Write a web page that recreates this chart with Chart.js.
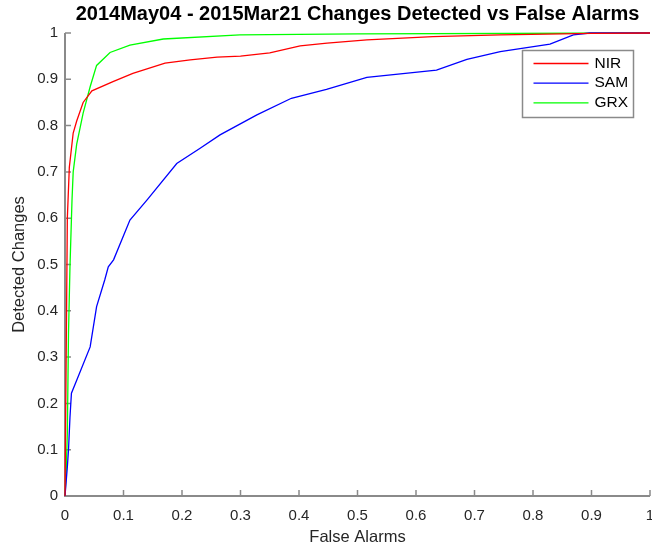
<!DOCTYPE html>
<html><head><meta charset="utf-8">
<script src="https://cdn.jsdelivr.net/npm/chart.js@4.4.1/dist/chart.umd.min.js"></script>
<style>html,body{margin:0;padding:0;background:#fff}#wrap{width:652px;height:550px}</style>
</head><body><div id="wrap"><canvas id="c" width="652" height="550"></canvas></div>
<script>
const titleText = '2014May04 - 2015Mar21 Changes Detected vs False Alarms';
const xAxisLabel = 'False Alarms';
const yAxisLabel = 'Detected Changes';
const seriesNames = ['NIR', 'SAM', 'GRX'];
const seriesColors = ['#ff0000', '#0000ff', '#00ff00'];

const nirX = [0, 0.002, 0.004, 0.0074, 0.014, 0.02, 0.031, 0.046, 0.082, 0.116, 0.171, 0.214, 0.26, 0.30, 0.35, 0.402, 0.448, 0.516, 0.629, 0.744, 0.85, 0.9, 1];
const nirY = [0, 0.3, 0.6, 0.71, 0.784, 0.81, 0.85, 0.875, 0.895, 0.913, 0.935, 0.942, 0.948, 0.95, 0.957, 0.972, 0.978, 0.985, 0.992, 0.996, 0.998, 0.999, 1];

const samX = [0, 0.004, 0.006, 0.0085, 0.011, 0.02, 0.043, 0.054, 0.068, 0.074, 0.083, 0.111, 0.14, 0.191, 0.231, 0.265, 0.328, 0.387, 0.447, 0.516, 0.635, 0.687, 0.744, 0.829, 0.869, 0.897, 1];
const samY = [0, 0.063, 0.1, 0.17, 0.222, 0.25, 0.322, 0.409, 0.467, 0.495, 0.51, 0.596, 0.639, 0.718, 0.751, 0.78, 0.823, 0.859, 0.878, 0.904, 0.92, 0.943, 0.96, 0.976, 0.996, 1.0, 1];

const grxX = [0, 0.002, 0.004, 0.006, 0.0085, 0.012, 0.014, 0.02, 0.031, 0.043, 0.054, 0.077, 0.111, 0.168, 0.299, 0.5, 1];
const grxY = [0, 0.05, 0.136, 0.352, 0.495, 0.64, 0.70, 0.76, 0.827, 0.884, 0.93, 0.958, 0.974, 0.987, 0.996, 0.998, 1];

const xTicks = [0, 0.1, 0.2, 0.3, 0.4, 0.5, 0.6, 0.7, 0.8, 0.9, 1];
const yTicks = [0, 0.1, 0.2, 0.3, 0.4, 0.5, 0.6, 0.7, 0.8, 0.9, 1];

const FONT = "'Liberation Sans', Arial, Helvetica, sans-serif";
const AXIS_COLOR = '#8a8a8a';
const TEXT_COLOR = '#262626';

function pts(xs, ys) { return xs.map((x, i) => ({ x: x, y: ys[i] })); }
const seriesData = [pts(nirX, nirY), pts(samX, samY), pts(grxX, grxY)];

const fmt = v => String(+(+v).toFixed(1));

const matlabPlugin = {
  id: 'matlab',
  beforeDatasetsDraw(chart) {
    const ctx = chart.ctx, a = chart.chartArea;
    const xs = chart.scales.x, ys = chart.scales.y;
    ctx.save();
    ctx.strokeStyle = AXIS_COLOR;
    ctx.lineWidth = 2;
    ctx.beginPath();
    ctx.moveTo(a.left, a.top); ctx.lineTo(a.left, a.bottom); ctx.lineTo(a.right, a.bottom);
    ctx.stroke();
    ctx.lineWidth = 1.5;
    ctx.beginPath();
    xTicks.forEach(v => { const p = xs.getPixelForValue(v); ctx.moveTo(p, a.bottom); ctx.lineTo(p, a.bottom - 6); });
    yTicks.forEach(v => { const p = ys.getPixelForValue(v); ctx.moveTo(a.left, p); ctx.lineTo(a.left + 6, p); });
    ctx.stroke();
    ctx.restore();
  },
  afterDraw(chart) {
    const ctx = chart.ctx, a = chart.chartArea;
    ctx.save();
    // title
    ctx.fillStyle = '#000';
    ctx.font = 'bold 20px ' + FONT;
    ctx.textAlign = 'center';
    ctx.textBaseline = 'middle';
    ctx.fillText(titleText, (a.left + a.right) / 2, 14);
    // legend
    const bx = a.right - 127.5, by = a.top + 17.5, bw = 111, bh = 67;
    ctx.fillStyle = '#fff';
    ctx.fillRect(bx, by, bw, bh);
    ctx.strokeStyle = AXIS_COLOR;
    ctx.lineWidth = 1.5;
    ctx.strokeRect(bx, by, bw, bh);
    ctx.font = '15.5px ' + FONT;
    ctx.textAlign = 'left';
    chart.data.datasets.forEach((ds, i) => {
      const y = by + 13 + i * 19.7;
      ctx.strokeStyle = ds.borderColor;
      ctx.lineWidth = 1.3;
      ctx.beginPath(); ctx.moveTo(bx + 11, y); ctx.lineTo(bx + 66, y); ctx.stroke();
      ctx.fillStyle = '#000';
      ctx.fillText(ds.label, bx + 72, y);
    });
    ctx.restore();
  }
};

new Chart(document.getElementById('c'), {
  type: 'scatter',
  data: {
    datasets: seriesNames.map((n, i) => ({
      label: n,
      data: seriesData[i],
      showLine: true,
      borderColor: seriesColors[i],
      backgroundColor: seriesColors[i],
      borderWidth: 1.3,
      pointRadius: 0,
      tension: 0,
      clip: 3
    }))
  },
  options: {
    responsive: false,
    animation: false,
    devicePixelRatio: 1,
    layout: { padding: { left: 0, right: 2, top: 33, bottom: 0 } },
    plugins: { legend: { display: false }, tooltip: { enabled: false }, title: { display: false } },
    scales: {
      x: {
        type: 'linear', min: 0, max: 1,
        afterBuildTicks: s => { s.ticks = xTicks.map(v => ({ value: v })); },
        ticks: { callback: fmt, font: { size: 15, family: FONT }, color: TEXT_COLOR, padding: 11, maxRotation: 0, autoSkip: false },
        grid: { display: false, drawTicks: false },
        border: { display: false },
        title: { display: true, text: xAxisLabel, font: { size: 16.5, family: FONT }, color: TEXT_COLOR, padding: { top: 0, bottom: 3 } },
        afterFit: s => { s.height = 54; s.paddingLeft = 0; s.paddingRight = 0; }
      },
      y: {
        type: 'linear', min: 0, max: 1,
        afterBuildTicks: s => { s.ticks = yTicks.map(v => ({ value: v })); },
        ticks: { callback: fmt, font: { size: 15, family: FONT }, color: TEXT_COLOR, padding: 7, autoSkip: false },
        grid: { display: false, drawTicks: false },
        border: { display: false },
        title: { display: true, text: yAxisLabel, font: { size: 16.5, family: FONT }, color: TEXT_COLOR, padding: { top: 10, bottom: 0 } },
        afterFit: s => { s.width = 65; s.paddingTop = 0; s.paddingBottom = 0; }
      }
    }
  },
  plugins: [matlabPlugin]
});
</script></body></html>
